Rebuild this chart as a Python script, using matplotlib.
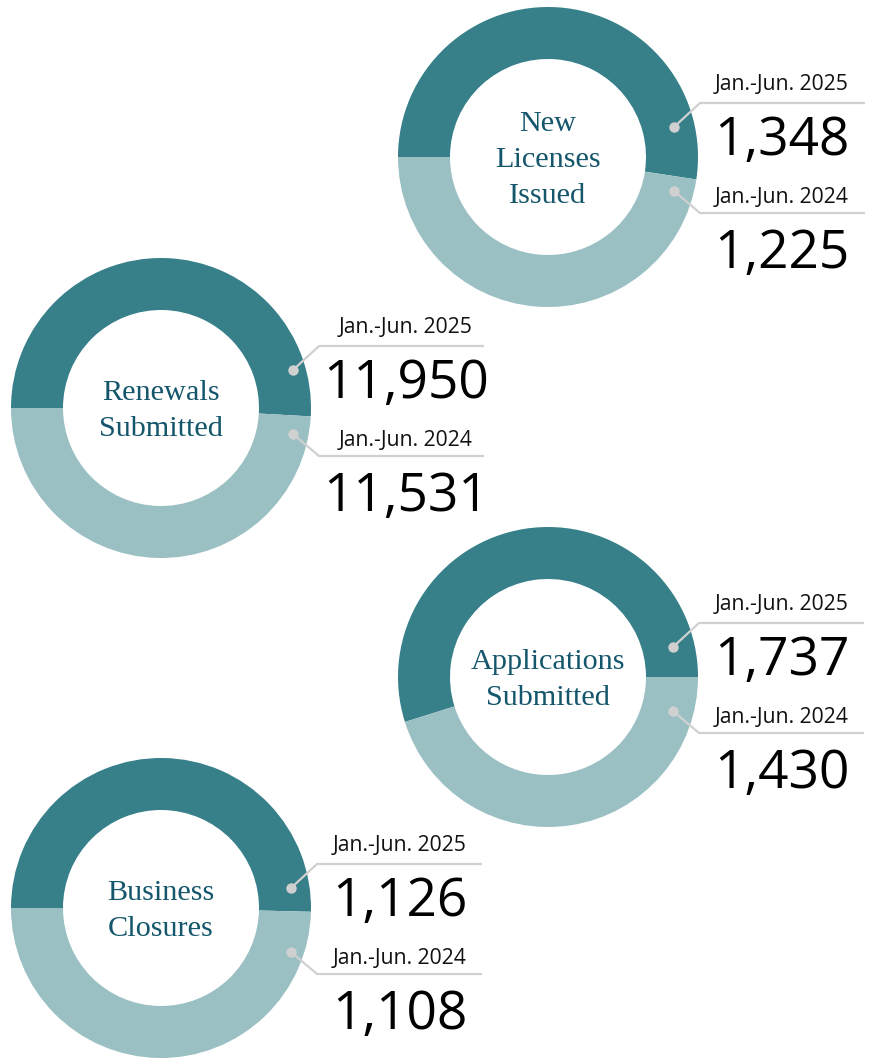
import matplotlib.pyplot as plt

W, H = 869, 1059

DARK = "#37808a"
LIGHT = "#9bc0c4"
TITLE_COLOR = "#14566b"
GREY = "#d0d0d0"

titles = ["New\nLicenses\nIssued", "Renewals\nSubmitted",
          "Applications\nSubmitted", "Business\nClosures"]
period_2025 = "Jan.-Jun. 2025"
period_2024 = "Jan.-Jun. 2024"
values_2025 = [1348, 11950, 1737, 1126]
values_2024 = [1225, 11531, 1430, 1108]

# layout per donut (pixels, y from top): center x/y, text center dx, dot dx, vertical shift of label block
centers = [(548, 157), (161, 408), (548, 677), (161, 908)]
text_dx = [234, 245, 234, 239]
dot_dx = [126, 132, 125, 130]
shift = [0, -8, 0, 10]
# start angle / direction of the 2025 wedge
start = [180, 180, 0, 180]
ccw = [False, False, True, False]

R_OUT = 150
R_IN = 98


def py(y):
    return H - y


fig = plt.figure(figsize=(W / 100, H / 100), dpi=100)
ax = fig.add_axes([0, 0, 1, 1])

for i, (cx, cy) in enumerate(centers):
    ax.pie([values_2025[i], values_2024[i]], colors=[DARK, LIGHT],
           startangle=start[i], counterclock=ccw[i], radius=R_OUT,
           center=(cx, py(cy)),
           wedgeprops=dict(width=R_OUT - R_IN, linewidth=0))

    ax.text(cx, py(cy + 3), titles[i], ha="center", va="center",
            multialignment="center", fontsize=21.8, color=TITLE_COLOR,
            family="Liberation Serif", linespacing=1.52)

    s = shift[i]
    tx = cx + text_dx[i]
    dx = dot_dx[i]
    for label, value, lab_y, line_y, dot_y, num_y in [
        (period_2025, values_2025[i], -67, -54, -30, -2),
        (period_2024, values_2024[i], 46, 56, 34, 111),
    ]:
        ax.plot([cx + dx, cx + dx + 26, cx + dx + 191],
                [py(cy + dot_y + s), py(cy + line_y + s), py(cy + line_y + s)],
                color=GREY, lw=1.6, solid_capstyle="butt", zorder=3)
        ax.plot(cx + dx, py(cy + dot_y + s), "o", ms=7.5, color=GREY,
                mec="none", zorder=4)
        ax.text(tx, py(cy + lab_y + s), label, ha="center", va="baseline",
                fontsize=15.2, color="#111111", family="Open Sans")
        ax.text(tx, py(cy + num_y + s), f"{value:,}", ha="center",
                va="baseline", fontsize=38.3, color="black",
                family="Open Sans")

ax.set_xlim(0, W)
ax.set_ylim(0, H)
ax.set_aspect("equal")
ax.axis("off")

fig.savefig("out.png", dpi=100, facecolor="white")
